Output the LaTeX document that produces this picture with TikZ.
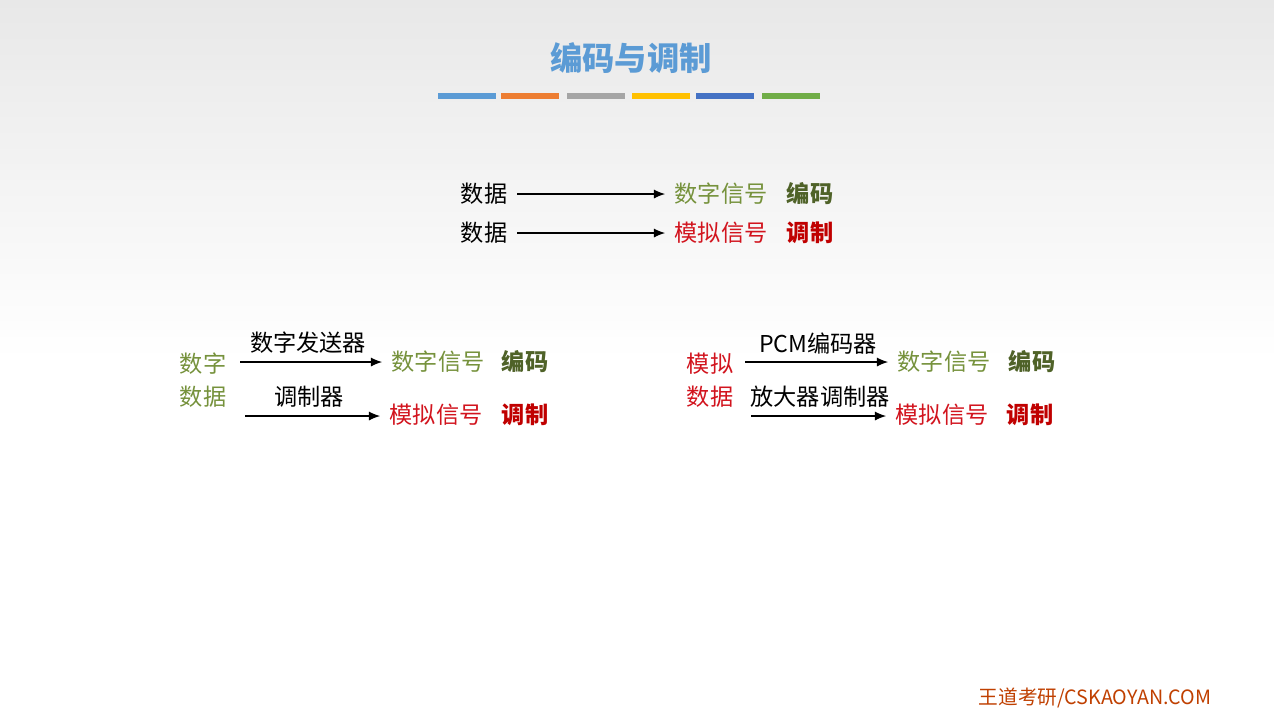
\documentclass[tikz,border=0pt]{standalone}
\usepackage{fontspec}
\setmainfont{Liberation Sans}
\newfontfamily\cjk{Noto Sans CJK SC}
\usetikzlibrary{arrows.meta}
\definecolor{ttl}{RGB}{91,155,213}
\definecolor{dg}{RGB}{118,146,60}
\definecolor{dgb}{RGB}{79,98,40}
\definecolor{rd}{RGB}{210,20,30}
\definecolor{rdb}{RGB}{192,0,0}
\definecolor{ft}{RGB}{192,64,0}
\definecolor{b1}{RGB}{91,155,213}
\definecolor{b2}{RGB}{237,125,49}
\definecolor{b3}{RGB}{165,165,165}
\definecolor{b4}{RGB}{255,192,0}
\definecolor{b5}{RGB}{68,114,196}
\definecolor{b6}{RGB}{112,173,71}
\tikzset{
 x=0.1mm,y=-0.1mm,
 t/.style={font=\cjk\fontsize{6.6}{7}\selectfont,inner sep=0pt},
 tb/.style={font=\cjk\bfseries\fontsize{6.6}{7}\selectfont,inner sep=0pt},
 ar/.style={-{Latex[length=3.2pt,width=2.6pt]},line width=0.35pt,shorten >=2.5pt},
 bar/.style={line width=1.7pt}
}
\begin{document}
\begin{tikzpicture}
\shade[top color=black!9,bottom color=white] (0,0) rectangle (1274,360);
\fill[white] (0,360) rectangle (1274,717);
\useasboundingbox (0,0) rectangle (1274,717);
\node[font=\cjk\bfseries\fontsize{9.2}{10}\selectfont,text=ttl] (title) at (631,58) {编码与调制};
\foreach \a/\c in {438/b1,501/b2,567/b3,632/b4,696/b5,762/b6}
  \draw[bar,draw=\c] (\a,96) -- ++(58,0);
% row 1
\node[t] (d1) at (484,194) {数据};
\node[t,text=dg] (s1) at (721,194) {数字信号};
\node[tb,text=dgb] (e1) at (810,194) {编码};
\draw[ar] (517,194) -- (s1.west);
\node[t] (d2) at (484,233) {数据};
\node[t,text=rd] (s2) at (721,233) {模拟信号};
\node[tb,text=rdb] (e2) at (810,233) {调制};
\draw[ar] (517,233) -- (s2.west);
% left block
\node[t,text=dg] (l1) at (203,364) {数字};
\node[t,text=dg] (l2) at (203,397) {数据};
\node[t] (la) at (308,343) {数字发送器};
\node[t,text=dg] (ls1) at (438,362) {数字信号};
\node[tb,text=dgb] (le1) at (525,362) {编码};
\coordinate (la0) at (240,362);
\draw[ar] (la0) -- (ls1.west);
\node[t] (lb) at (309,397) {调制器};
\node[t,text=rd] (ls2) at (436,415) {模拟信号};
\node[tb,text=rdb] (le2) at (525,415) {调制};
\coordinate (lb0) at (245,416);
\draw[ar] (lb0) -- (ls2.west |- lb0);
% right block
\node[t,text=rd] (r1) at (710,364) {模拟};
\node[t,text=rd] (r2) at (710,397) {数据};
\node[t] (ra) at (818,344) {PCM编码器};
\node[t,text=dg] (rs1) at (944,362) {数字信号};
\node[tb,text=dgb] (re1) at (1032,362) {编码};
\coordinate (ra0) at (745,362);
\draw[ar] (ra0) -- (rs1.west);
\node[t] (rb) at (820,397) {放大器调制器};
\node[t,text=rd] (rs2) at (942,415) {模拟信号};
\node[tb,text=rdb] (re2) at (1030,415) {调制};
\coordinate (rb0) at (751,416);
\draw[ar] (rb0) -- (rs2.west |- rb0);
% footer
\node[font=\cjk\fontsize{5.6}{6}\selectfont,text=ft,inner sep=0pt] (foot) at (1095,698) {王道考研/CSKAOYAN.COM};
\end{tikzpicture}
\end{document}
